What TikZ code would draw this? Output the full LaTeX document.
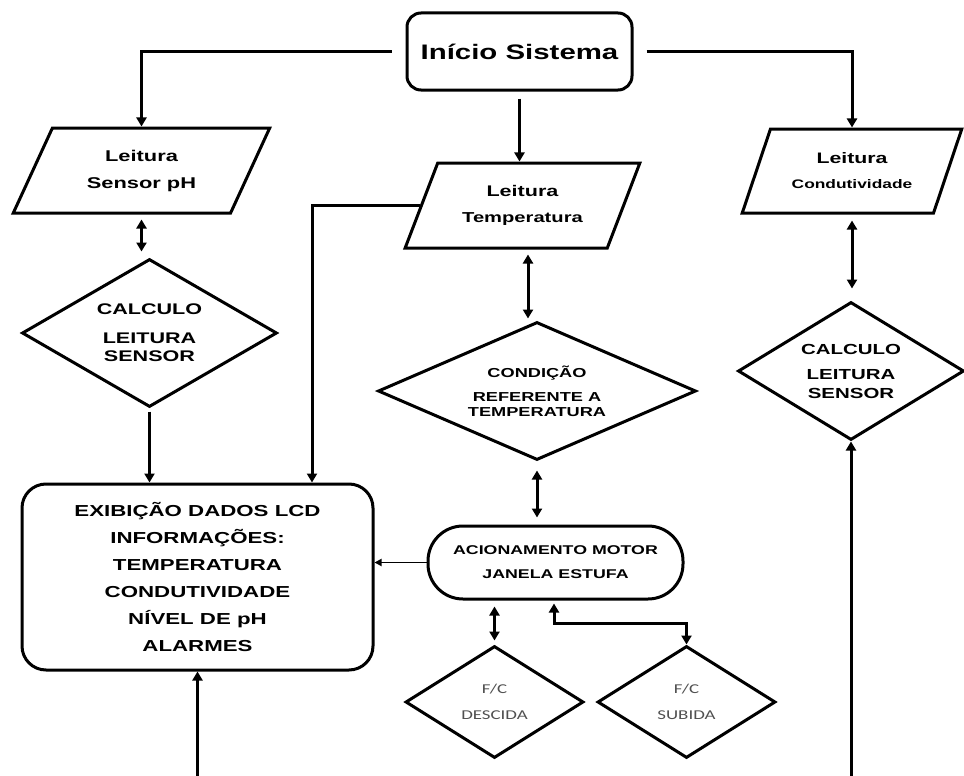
\documentclass[tikz,border=0pt]{standalone}
\usepackage{fontspec}
\setmainfont{Liberation Sans}
\newfontfamily\lbf[FakeStretch=1.4]{Liberation Sans}
\newfontfamily\crl[FakeStretch=1.4]{Carlito}
\usetikzlibrary{arrows.meta,shapes.geometric,shapes.misc}
\definecolor{fcgray}{HTML}{505050}
\tikzset{
  lw/.style={line width=3pt},
  startbox/.style={draw, lw, rectangle, rounded corners=14pt, minimum width=225pt, minimum height=77pt, inner sep=0pt,
    font=\lbf\bfseries\fontsize{21}{25}\selectfont},
  para/.style={draw, lw, trapezium, trapezium left angle=60, trapezium right angle=120,
    trapezium stretches=true, align=center, inner sep=0pt},
  dia/.style={draw, lw, diamond, align=center, inner sep=0pt},
  lcdbox/.style={draw, lw, rectangle, rounded corners=24pt, minimum width=351pt, minimum height=186pt,
    align=center, inner sep=0pt, font=\lbf\bfseries\fontsize{15.9}{27}\selectfont},
  motorbox/.style={draw, lw, rectangle, rounded corners=35pt, minimum width=255pt, minimum height=73pt,
    align=center, inner sep=0pt, font=\lbf\bfseries\fontsize{12.7}{24}\selectfont},
  fcbox/.style={dia, minimum width=178pt, minimum height=112pt, aspect=1.58, text=fcgray,
    font=\crl\fontsize{13.5}{26}\selectfont},
  conn/.style={lw, -{Triangle[length=9pt,width=10pt]}},
  thinconn/.style={line width=1.8pt, -{Triangle[length=7pt,width=7pt]}},
  dconn/.style={lw, {Triangle[length=9pt,width=10pt]}-{Triangle[length=9pt,width=10pt]}}
}
\begin{document}
\begin{tikzpicture}[x=1pt,y=-1pt]
\fill[white] (0,0) rectangle (964,776);
\useasboundingbox (0,0) rectangle (964,776);

% nodes
\node[startbox] (start) at (519.5,51.5) {Início Sistema};

\node[para, minimum width=257pt, minimum height=85pt,
  font=\lbf\bfseries\fontsize{15.6}{27}\selectfont] (ph) at (141.5,170.5) {Leitura\\Sensor pH};

\node[para, minimum width=235pt, minimum height=85pt,
  font=\lbf\bfseries\fontsize{15.4}{26}\selectfont] (temp) at (522.5,205.5)
  {Leitura\\{\fontsize{14.4}{26}\selectfont Temperatura}};

\node[para, minimum width=220pt, minimum height=84pt,
  font=\lbf\bfseries\fontsize{15.2}{25}\selectfont] (cond) at (852,171)
  {Leitura\\{\fontsize{12.4}{25}\selectfont Condutividade}};

\node[dia, minimum width=255pt, minimum height=148pt, aspect=1.72,
  font=\lbf\bfseries\fontsize{15.4}{18}\selectfont] (phd) at (149.5,333)
  {CALCULO\\[11pt]LEITURA\\SENSOR};

\node[dia, minimum width=318pt, minimum height=138pt, aspect=2.3,
  font=\lbf\bfseries\fontsize{13}{15}\selectfont] (tempd) at (537,391)
  {CONDIÇÃO\\[9pt]REFERENTE A\\TEMPERATURA};

\node[dia, minimum width=226pt, minimum height=138pt, aspect=1.64,
  font=\lbf\bfseries\fontsize{14.6}{19}\selectfont] (condd) at (851,371)
  {CALCULO\\[6pt]LEITURA\\SENSOR};

\node[lcdbox] (lcd) at (197.5,577)
  {EXIBIÇÃO DADOS LCD\\INFORMAÇÕES:\\TEMPERATURA\\CONDUTIVIDADE\\NÍVEL DE pH\\ALARMES};

\node[motorbox] (motor) at (555.5,562.5) {ACIONAMENTO MOTOR\\JANELA ESTUFA};

\node[fcbox] (desc) at (494.5,702) {F/C\\DESCIDA};
\node[fcbox] (sub) at (686.5,702) {F/C\\SUBIDA};

\coordinate (bl) at (197.5,776);
\coordinate (br) at (851,776);

% connectors
\draw[conn] ([xshift=-14pt]start.west) -| (ph);
\draw[conn] ([xshift=13pt]start.east) -| (cond);
\draw[conn] ([yshift=-7pt]start.south) -- (start.south |- temp.north);

\draw[dconn] ([yshift=-5pt]ph.south) -- ([yshift=6pt]ph.south |- phd.north);
\draw[conn] ([yshift=-3pt]phd.south) -- (phd.south |- lcd.north);

\draw[conn] (temp.west) -| ([xshift=114.5pt]lcd.north);
\draw[dconn] ([xshift=5.5pt,yshift=-5pt]temp.south) -- ([xshift=5.5pt,yshift=2pt]temp.south |- tempd.north);
\draw[dconn] ([yshift=-9pt]tempd.south) -- ([yshift=7pt]tempd.south |- motor.north);

\draw[dconn] ([yshift=-6pt]cond.south) -- ([yshift=12pt]cond.south |- condd.north);

\draw[thinconn] (motor.west) -- (motor.west -| lcd.east);
\draw[dconn] ([xshift=-61pt,yshift=-6pt]motor.south) -- ([xshift=-61pt,yshift=4pt]motor.south |- desc.north);
\draw[dconn] ([xshift=-1.5pt,yshift=-3pt]motor.south) -- ++(0,20) -| (sub.north);

\draw[conn] (bl) -- (lcd.south);
\draw[conn] (br) -- (condd.south);
\end{tikzpicture}
\end{document}
